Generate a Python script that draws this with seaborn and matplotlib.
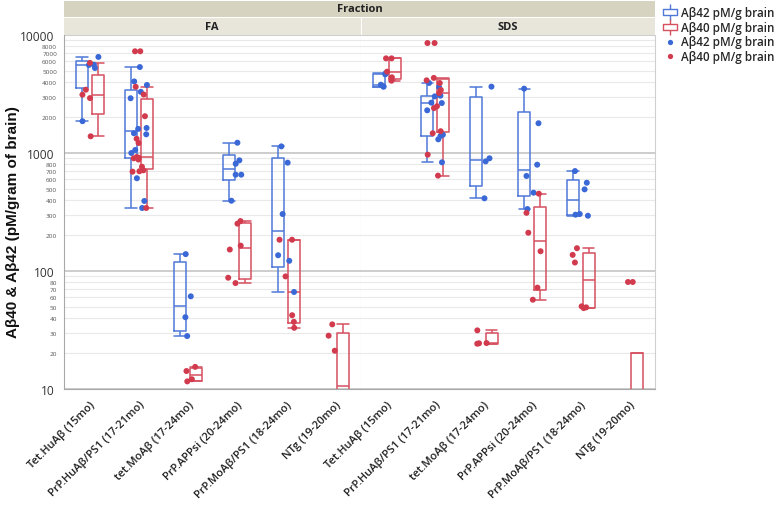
import numpy as np
import pandas as pd
import matplotlib
matplotlib.use("Agg")
import matplotlib.pyplot as plt
from matplotlib.path import Path
from matplotlib.lines import Line2D
from matplotlib.patches import Rectangle
from matplotlib.ticker import FixedLocator, FixedFormatter, NullFormatter
import seaborn as sns

# ---------------- data ----------------
groups = ["Tet.HuAβ (15mo)", "PrP.HuAβ/PS1 (17-21mo)", "tet.MoAβ (17-24mo)",
          "PrP.APPsi (20-24mo)", "PrP.MoAβ/PS1 (18-24mo)", "NTg (19-20mo)"]
fractions = ["FA", "SDS"]
analytes = ["Aβ42 pM/g brain", "Aβ40 pM/g brain"]

fa_ab42 = [
    [1860, 5250, 5570, 5600, 6520],
    [342, 392, 611, 1000, 1060, 1440, 1470, 1600, 1630, 2910, 3300, 3770, 4040, 5350],
    [28.1, 40.6, 61, 139],
    [394, 655, 655, 811, 867, 1222],
    [66.4, 122, 136, 304, 828, 1138],
    [],
]
fa_ab40 = [
    [1385, 2920, 3120, 3440, 5800],
    [342, 695, 700, 713, 765, 880, 902, 910, 925, 1216, 1320, 2050, 3130, 3640, 7280, 7280],
    [11.6, 12.1, 14.2, 15.4],
    [79, 87.7, 152, 164, 252, 265],
    [33, 37.1, 42.2, 90, 184, 184],
    [0, 0, 0, 21.1, 28.3, 35.3],
]
sds_ab42 = [
    [3650, 3670, 3790, 4640, 4750],
    [834, 1306, 1394, 1430, 2300, 2650, 2670, 3020, 3060, 3620, 3920],
    [413, 849, 902, 3650],
    [335, 461, 639, 796, 1787, 3510],
    [294, 300, 304, 492, 560, 703],
    [],
]
sds_ab40 = [
    [4100, 4380, 4890, 6340, 6340],
    [643, 968, 1470, 1530, 2400, 2490, 3220, 3420, 3920, 4130, 4330, 8550, 8550],
    [24.2, 24.4, 24.5, 31.4],
    [57.1, 72.3, 147, 211, 311, 452],
    [48.5, 49.2, 50.2, 118, 137, 156],
    [0, 0, 0, 0, 0, 0, 0, 0, 80.7, 80.7],
]

major_ticks = [10, 100, 1000, 10000]
major_labels = ["10", "100", "1000", "10000"]

rows = []
for frac, a42, a40 in [("FA", fa_ab42, fa_ab40), ("SDS", sds_ab42, sds_ab40)]:
    for g, v42, v40 in zip(groups, a42, a40):
        for v in v42:
            rows.append((frac, g, analytes[0], v))
        for v in v40:
            rows.append((frac, g, analytes[1], v))
df = pd.DataFrame(rows, columns=["Fraction", "Group", "Analyte", "Value"])

# ---------------- style ----------------
sns.set_style("white")
plt.rcParams["font.family"] = ["Open Sans", "DejaVu Sans"]

box_colors = {analytes[0]: "#4f78d8", analytes[1]: "#d6505f"}
pt_colors = {analytes[0]: "#3a68d6", analytes[1]: "#d23a4e"}

W, H = 778, 510
fig = plt.figure(figsize=(W / 100, H / 100), dpi=100)


def px_axes(x0, y0, x1, y1):
    return fig.add_axes([x0 / W, 1 - y1 / H, (x1 - x0) / W, (y1 - y0) / H])


ax_fa = px_axes(64, 36, 361, 390)
ax_sds = px_axes(361, 36, 655, 390)

# JMP-style quartiles ((n+1)p rule)
_orig_percentile = np.percentile


def _jmp_percentile(a, q, *args, **kwargs):
    kwargs.setdefault("method", "weibull")
    return _orig_percentile(a, q, *args, **kwargs)


np.random.seed(7)
minor_vals, minor_labs = [], []
for dec in [10, 100, 1000]:
    for m in range(2, 10):
        minor_vals.append(m * dec)
        minor_labs.append(str(m * dec) if m < 9 else "")

for ax, frac in [(ax_fa, "FA"), (ax_sds, "SDS")]:
    sub = df[df["Fraction"] == frac]
    np.percentile = _jmp_percentile
    try:
        sns.boxplot(data=sub, x="Group", y="Value", hue="Analyte", order=groups,
                    hue_order=analytes, palette=box_colors, fill=False, width=0.65,
                    gap=0.25, showfliers=False, linewidth=1.1, whis=1.5,
                    capwidths=0.24, legend=False, ax=ax)
    finally:
        np.percentile = _orig_percentile
    sns.stripplot(data=sub, x="Group", y="Value", hue="Analyte", order=groups,
                  hue_order=analytes, palette=pt_colors, dodge=False, jitter=0.18,
                  size=4.3, linewidth=0, legend=False, ax=ax, zorder=4)

    ax.set_yscale("log")
    ax.set_ylim(10, 10000)
    ax.set_xlim(-0.53, 5.53)
    ax.set_xlabel("")
    ax.set_ylabel("")
    ax.yaxis.set_major_locator(FixedLocator(major_ticks))
    ax.yaxis.set_minor_locator(FixedLocator(minor_vals))
    ax.grid(which="major", axis="y", color="#cdcdcd", lw=1.4)
    ax.grid(which="minor", axis="y", color="#e9e9e9", lw=0.8)
    ax.grid(which="major", axis="x", visible=False)
    ax.set_axisbelow(True)
    ax.set_xticks(range(len(groups)))
    ax.set_xticklabels(groups, rotation=45, ha="right", rotation_mode="anchor",
                       fontsize=8, fontweight="semibold", color="#222222")
    ax.tick_params(axis="x", length=4, width=0.8, color="#a0a0a0", pad=3)
    ax.spines["top"].set_visible(False)
    ax.spines["bottom"].set_color("#a8a8a8")
    ax.spines["right"].set_color("#cfcfcf")
    ax.spines["left"].set_color("#a8a8a8")

ax_fa.yaxis.set_major_formatter(FixedFormatter(major_labels))
ax_fa.yaxis.set_minor_formatter(FixedFormatter(minor_labs))
ax_fa.tick_params(axis="y", which="major", length=5, width=0.8, color="#a0a0a0",
                  labelsize=8.6, labelcolor="#333333", pad=2)
ax_fa.tick_params(axis="y", which="minor", length=3, width=0.6, color="#b0b0b0",
                  labelsize=4.6, labelcolor="#555555", pad=2)
ax_sds.spines["left"].set_visible(False)
ax_sds.yaxis.set_major_formatter(NullFormatter())
ax_sds.yaxis.set_minor_formatter(NullFormatter())
ax_sds.tick_params(axis="y", which="both", length=0)

# ---------------- header bands ----------------
def band(x0, y0, x1, y1, color):
    fig.add_artist(Rectangle((x0 / W, 1 - y1 / H), (x1 - x0) / W, (y1 - y0) / H,
                             transform=fig.transFigure, facecolor=color,
                             edgecolor="none"))

band(64, 2, 655, 18, "#d6d3c1")
band(64, 19, 360.5, 36, "#e8e6da")
band(361.5, 19, 655, 36, "#e8e6da")
fig.text(360 / W, 1 - 10 / H, "Fraction", ha="center", va="center",
         fontsize=8, fontweight="bold", color="#222222")
fig.text(212 / W, 1 - 27.5 / H, "FA", ha="center", va="center",
         fontsize=8, fontweight="bold", color="#222222")
fig.text(508 / W, 1 - 27.5 / H, "SDS", ha="center", va="center",
         fontsize=8, fontweight="bold", color="#222222")

# ---------------- y label ----------------
fig.text(13 / W, 1 - 222 / H, "Aβ40 & Aβ42 (pM/gram of brain)", rotation=90,
         ha="center", va="center", fontsize=11, fontweight="bold",
         family=["Liberation Sans", "DejaVu Sans"], color="#111111")

# ---------------- legend ----------------
box_marker = Path(
    [(-1, -0.5), (1, -0.5), (1, 0.5), (-1, 0.5), (-1, -0.5),
     (0, 0.5), (0, 1.1), (0, -0.5), (0, -1.1)],
    [Path.MOVETO, Path.LINETO, Path.LINETO, Path.LINETO, Path.CLOSEPOLY,
     Path.MOVETO, Path.LINETO, Path.MOVETO, Path.LINETO])
handles = [
    Line2D([], [], marker=box_marker, linestyle="None", markersize=11,
           markerfacecolor="none", markeredgecolor=box_colors[analytes[0]], markeredgewidth=1),
    Line2D([], [], marker=box_marker, linestyle="None", markersize=11,
           markerfacecolor="none", markeredgecolor=box_colors[analytes[1]], markeredgewidth=1),
    Line2D([], [], marker="o", linestyle="None", markersize=3.8,
           markerfacecolor=pt_colors[analytes[0]], markeredgewidth=0),
    Line2D([], [], marker="o", linestyle="None", markersize=3.8,
           markerfacecolor=pt_colors[analytes[1]], markeredgewidth=0),
]
labels = [analytes[0], analytes[1], analytes[0], analytes[1]]
fig.legend(handles, labels, loc="upper left", bbox_to_anchor=(664 / W, 1 - 7 / H),
           frameon=False, prop={"size": 8.4, "weight": "semibold"},
           handletextpad=0.35, labelspacing=0.14, handlelength=1.1,
           handleheight=0.5, borderaxespad=0, borderpad=0)

fig.savefig("out.png", dpi=100)
